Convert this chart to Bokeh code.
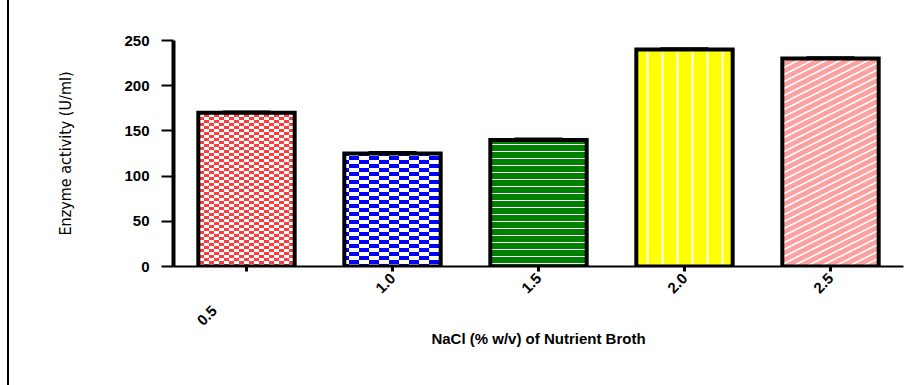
import base64
import math

from bokeh.embed import file_html
from bokeh.layouts import row
from bokeh.models import (ColumnDataSource, FixedTicker, ImageURLTexture,
                          Range1d, Spacer, TeeHead, Whisker)
from bokeh.plotting import figure
from bokeh.resources import INLINE

# NaCl concentration in the broth and the enzyme activity measured at each level
nacl_levels = ["0.5", "1.0", "1.5", "2.0", "2.5"]
activity = [170, 125, 140, 240, 230]
sem = [1.0, 1.0, 1.0, 1.0, 1.0]
y_ticks = [0, 50, 100, 150, 200, 250]

# per-bar fill styling
fill_colors = ["#ff3b3b", "#0000ff", "#008000", "#ffff00", "#ffa0a0"]
hatch_patterns = ["fine_checker", "coarse_checker", "horizontal_line",
                  "vertical_line", "shallow_diagonal"]
hatch_scales = [12, 20, 7, 15, 28]
hatch_weights = [1, 1, 1, 2, 1.5]


def svg_tile(w, h, body):
    """Small repeating SVG tile, returned as a data URL."""
    svg = (f'<svg xmlns="http://www.w3.org/2000/svg" width="{w}" height="{h}" '
           f'viewBox="0 0 {w} {h}">{body}</svg>')
    return "data:image/svg+xml;base64," + base64.b64encode(svg.encode()).decode()


def checker_tile(cw, ch, bg):
    body = (f'<rect width="{2 * cw}" height="{2 * ch}" fill="{bg}"/>'
            f'<rect x="0" y="0" width="{cw}" height="{ch}" fill="#ffffff"/>'
            f'<rect x="{cw}" y="{ch}" width="{cw}" height="{ch}" fill="#ffffff"/>')
    return svg_tile(2 * cw, 2 * ch, body)


def diagonal_tile(period, bg):
    w, h = 4 * period, period
    lines = "".join(
        f'<line x1="-1" y1="{c + 0.5}" x2="{w + 1}" y2="{c - w / 2 - 0.5}" '
        f'stroke="#ffffff" stroke-width="1.6"/>'
        for c in range(0, 4 * period, period)
    )
    return svg_tile(w, h, f'<rect width="{w}" height="{h}" fill="{bg}"/>' + lines)


textures = {
    "fine_checker": ImageURLTexture(url=checker_tile(5, 3, fill_colors[0])),
    "coarse_checker": ImageURLTexture(url=checker_tile(10, 4, fill_colors[1])),
    "shallow_diagonal": ImageURLTexture(url=diagonal_tile(7, fill_colors[4])),
}

positions = list(range(len(nacl_levels)))
source = ColumnDataSource(dict(
    x=positions,
    top=activity,
    upper=[a + s for a, s in zip(activity, sem)],
    fill=fill_colors,
    hatch=hatch_patterns,
    scale=hatch_scales,
    weight=hatch_weights,
))

p = figure(
    width=910, height=385,
    x_range=Range1d(-0.5, 4.5), y_range=Range1d(0, 250),
    output_backend="svg", toolbar_location=None,
    min_border_left=164, min_border_right=16,
    min_border_top=40, min_border_bottom=119,
)
p.outline_line_color = None
p.xgrid.grid_line_color = None
p.ygrid.grid_line_color = None

p.vbar(x="x", top="top", bottom=0, width=0.66, source=source,
       fill_color="fill", line_color="black", line_width=4,
       line_join="miter",
       hatch_pattern="hatch", hatch_color="white",
       hatch_scale="scale", hatch_weight="weight",
       hatch_extra=textures)

p.add_layout(Whisker(
    base="x", upper="upper", lower="top", source=source,
    upper_head=TeeHead(size=48, line_width=3, line_color="black"),
    lower_head=None, line_color="black", line_width=2, level="overlay",
))

tick_font = "Liberation Sans"

# x axis
p.xaxis.ticker = FixedTicker(ticks=positions)
overrides = {i: lbl for i, lbl in zip(positions, nacl_levels)}
overrides[0] = nacl_levels[0] + "\u00a0" * 11
p.xaxis.major_label_overrides = overrides
p.xaxis.major_label_orientation = math.pi / 4
p.xaxis.axis_line_width = 2
p.xaxis.major_tick_out = 5
p.xaxis.major_tick_in = 0
p.xaxis.major_tick_line_width = 3
p.xaxis.minor_tick_line_color = None
p.xaxis.major_label_text_font = tick_font
p.xaxis.major_label_text_font_style = "bold"
p.xaxis.major_label_text_font_size = "15px"
p.xaxis.major_label_text_color = "black"
p.xaxis.major_label_standoff = 4
p.xaxis.axis_label = "NaCl (% w/v) of Nutrient Broth"
p.xaxis.axis_label_text_font = tick_font
p.xaxis.axis_label_text_font_style = "bold"
p.xaxis.axis_label_text_font_size = "15px"
p.xaxis.axis_label_text_color = "black"
p.xaxis.axis_label_standoff = -8

# y axis
p.yaxis.ticker = FixedTicker(ticks=y_ticks)
p.yaxis.axis_line_width = 4
p.yaxis.major_tick_out = 12
p.yaxis.major_tick_in = 0
p.yaxis.major_tick_line_width = 2
p.yaxis.minor_tick_line_color = None
p.yaxis.major_label_text_font = tick_font
p.yaxis.major_label_text_font_style = "bold"
p.yaxis.major_label_text_font_size = "15px"
p.yaxis.major_label_text_color = "black"
p.yaxis.major_label_standoff = 12
p.yaxis.axis_label = "Enzyme activity (U/ml)"
p.yaxis.axis_label_text_font = "DejaVu Sans Condensed, Liberation Sans"
p.yaxis.axis_label_text_font_style = "normal"
p.yaxis.axis_label_text_font_size = "16px"
p.yaxis.axis_label_text_color = "black"
p.yaxis.axis_label_standoff = 46

layout = row(
    Spacer(width=7, height=385),
    Spacer(width=2, height=385, styles={"background-color": "black"}),
    p,
)

open("out.html", "w").write(file_html(layout, INLINE))
